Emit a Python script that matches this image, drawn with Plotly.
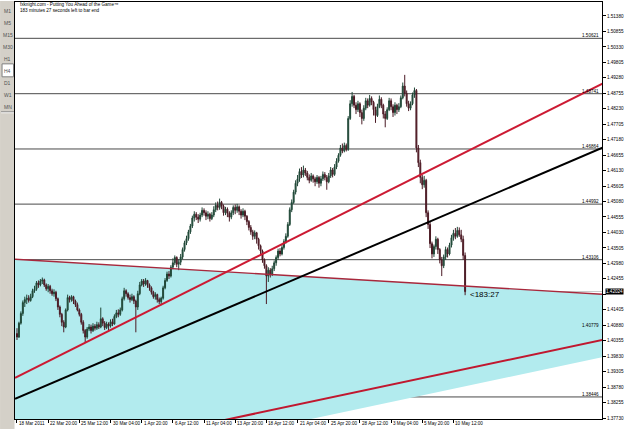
import plotly.graph_objects as go

# ---------------- data (EURUSD H4) ----------------
first_open = 1.4060
close = [1.4048,1.4095,1.4128,1.4165,1.4175,1.4180,1.4172,1.4185,1.4205,1.4210,
         1.4232,1.4225,1.4238,1.4242,1.4225,1.4212,1.4220,1.4205,1.4195,1.4200,
         1.4178,1.4150,1.4125,1.4098,1.4082,1.4140,1.4182,1.4175,1.4185,1.4170,
         1.4158,1.4140,1.4125,1.4098,1.4070,1.4048,1.4075,1.4082,1.4070,1.4085,
         1.4078,1.4090,1.4082,1.4110,1.4095,1.4080,1.4092,1.4085,1.4100,1.4092,
         1.4118,1.4130,1.4125,1.4140,1.4178,1.4205,1.4195,1.4182,1.4175,1.4185,
         1.4170,1.4150,1.4195,1.4225,1.4238,1.4228,1.4240,1.4225,1.4215,1.4200,
         1.4185,1.4192,1.4175,1.4168,1.4180,1.4215,1.4240,1.4262,1.4255,1.4285,
         1.4300,1.4318,1.4295,1.4302,1.4320,1.4345,1.4368,1.4382,1.4405,1.4425,
         1.4452,1.4465,1.4455,1.4448,1.4462,1.4478,1.4470,1.4458,1.4465,1.4450,
         1.4462,1.4480,1.4495,1.4488,1.4505,1.4492,1.4470,1.4482,1.4468,1.4455,
         1.4470,1.4488,1.4478,1.4490,1.4475,1.4462,1.4475,1.4458,1.4440,1.4420,
         1.4405,1.4390,1.4402,1.4380,1.4358,1.4340,1.4310,1.4290,1.4255,1.4275,
         1.4262,1.4280,1.4300,1.4318,1.4340,1.4330,1.4352,1.4372,1.4390,1.4430,
         1.4480,1.4505,1.4540,1.4570,1.4585,1.4610,1.4598,1.4615,1.4605,1.4590,
         1.4580,1.4595,1.4585,1.4575,1.4590,1.4570,1.4585,1.4600,1.4590,1.4575,
         1.4595,1.4615,1.4600,1.4625,1.4645,1.4665,1.4690,1.4680,1.4698,1.4685,
         1.4790,1.4840,1.4865,1.4835,1.4820,1.4840,1.4810,1.4790,1.4825,1.4850,
         1.4835,1.4858,1.4845,1.4820,1.4800,1.4830,1.4855,1.4835,1.4805,1.4790,
         1.4820,1.4850,1.4830,1.4810,1.4835,1.4820,1.4830,1.4860,1.4900,1.4875,
         1.4840,1.4825,1.4840,1.4870,1.4885,1.4690,1.4640,1.4590,1.4565,1.4580,
         1.4470,1.4430,1.4365,1.4330,1.4355,1.4380,1.4345,1.4310,1.4290,1.4320,
         1.4345,1.4330,1.4360,1.4385,1.4400,1.4390,1.4410,1.4395,1.4380,1.4325,
         1.4202]
high = [1.4078,1.4100,1.4135,1.4172,1.4185,1.4192,1.4190,1.4195,1.4212,1.4222,
        1.4238,1.4240,1.4245,1.4250,1.4246,1.4230,1.4228,1.4225,1.4212,1.4210,
        1.4205,1.4182,1.4155,1.4130,1.4105,1.4145,1.4192,1.4188,1.4190,1.4188,
        1.4175,1.4165,1.4145,1.4130,1.4105,1.4075,1.4082,1.4092,1.4090,1.4095,
        1.4092,1.4100,1.4098,1.4148,1.4115,1.4102,1.4100,1.4098,1.4108,1.4110,
        1.4125,1.4140,1.4142,1.4148,1.4185,1.4215,1.4210,1.4200,1.4192,1.4195,
        1.4190,1.4175,1.4205,1.4235,1.4245,1.4245,1.4248,1.4242,1.4230,1.4220,
        1.4205,1.4200,1.4195,1.4182,1.4185,1.4222,1.4248,1.4270,1.4272,1.4292,
        1.4315,1.4325,1.4322,1.4312,1.4330,1.4352,1.4375,1.4392,1.4412,1.4432,
        1.4460,1.4475,1.4472,1.4465,1.4470,1.4488,1.4485,1.4478,1.4475,1.4470,
        1.4472,1.4492,1.4505,1.4508,1.4518,1.4510,1.4498,1.4490,1.4488,1.4475,
        1.4478,1.4495,1.4498,1.4500,1.4495,1.4482,1.4485,1.4480,1.4462,1.4445,
        1.4428,1.4412,1.4410,1.4405,1.4385,1.4362,1.4345,1.4315,1.4295,1.4285,
        1.4282,1.4290,1.4308,1.4325,1.4348,1.4350,1.4360,1.4380,1.4400,1.4438,
        1.4488,1.4515,1.4548,1.4580,1.4598,1.4620,1.4625,1.4630,1.4622,1.4612,
        1.4600,1.4605,1.4600,1.4592,1.4598,1.4595,1.4595,1.4610,1.4608,1.4598,
        1.4605,1.4625,1.4622,1.4635,1.4655,1.4672,1.4700,1.4705,1.4708,1.4705,
        1.4798,1.4852,1.4880,1.4870,1.4845,1.4850,1.4845,1.4820,1.4835,1.4860,
        1.4858,1.4870,1.4865,1.4850,1.4830,1.4840,1.4868,1.4862,1.4840,1.4815,
        1.4828,1.4860,1.4858,1.4838,1.4845,1.4840,1.4842,1.4868,1.4912,1.4938,
        1.4885,1.4850,1.4848,1.4878,1.4895,1.4890,1.4700,1.4650,1.4598,1.4595,
        1.4585,1.4478,1.4440,1.4372,1.4362,1.4390,1.4385,1.4350,1.4320,1.4328,
        1.4355,1.4352,1.4368,1.4395,1.4412,1.4418,1.4422,1.4420,1.4412,1.4392,
        1.4335]
low = [1.4038,1.4045,1.4090,1.4120,1.4150,1.4160,1.4165,1.4168,1.4180,1.4198,
       1.4205,1.4215,1.4220,1.4228,1.4218,1.4205,1.4200,1.4195,1.4188,1.4185,
       1.4170,1.4140,1.4115,1.4085,1.4064,1.4078,1.4135,1.4165,1.4168,1.4160,
       1.4150,1.4135,1.4118,1.4090,1.4060,1.4030,1.4042,1.4068,1.4060,1.4065,
       1.4070,1.4072,1.4075,1.4078,1.4085,1.4072,1.4075,1.4070,1.4080,1.4085,
       1.4090,1.4112,1.4115,1.4120,1.4135,1.4172,1.4185,1.4175,1.4165,1.4170,
       1.4160,1.4064,1.4140,1.4190,1.4220,1.4218,1.4222,1.4215,1.4205,1.4192,
       1.4178,1.4175,1.4165,1.4160,1.4156,1.4175,1.4210,1.4235,1.4245,1.4250,
       1.4278,1.4292,1.4285,1.4275,1.4292,1.4312,1.4338,1.4360,1.4375,1.4398,
       1.4418,1.4440,1.4445,1.4435,1.4440,1.4455,1.4460,1.4445,1.4448,1.4440,
       1.4445,1.4455,1.4472,1.4478,1.4480,1.4482,1.4460,1.4462,1.4455,1.4440,
       1.4448,1.4462,1.4465,1.4470,1.4462,1.4450,1.4455,1.4445,1.4428,1.4410,
       1.4395,1.4378,1.4380,1.4365,1.4345,1.4330,1.4300,1.4280,1.4160,1.4235,
       1.4250,1.4255,1.4272,1.4290,1.4310,1.4322,1.4325,1.4345,1.4365,1.4385,
       1.4425,1.4472,1.4500,1.4532,1.4560,1.4575,1.4588,1.4590,1.4595,1.4580,
       1.4570,1.4575,1.4572,1.4560,1.4568,1.4555,1.4560,1.4578,1.4580,1.4548,
       1.4570,1.4588,1.4590,1.4595,1.4618,1.4640,1.4660,1.4672,1.4675,1.4678,
       1.4680,1.4785,1.4830,1.4825,1.4805,1.4812,1.4795,1.4770,1.4782,1.4818,
       1.4825,1.4830,1.4835,1.4800,1.4775,1.4795,1.4825,1.4825,1.4790,1.4760,
       1.4785,1.4815,1.4818,1.4795,1.4800,1.4805,1.4812,1.4825,1.4855,1.4865,
       1.4830,1.4815,1.4818,1.4835,1.4860,1.4675,1.4625,1.4570,1.4550,1.4555,
       1.4455,1.4415,1.4350,1.4315,1.4320,1.4345,1.4330,1.4298,1.4255,1.4282,
       1.4310,1.4318,1.4325,1.4352,1.4375,1.4380,1.4385,1.4388,1.4370,1.4310,
       1.4190]

date_labels = ["18 Mar 2011", "22 Mar 20:00", "25 Mar 12:00", "30 Mar 04:00", "1 Apr 20:00",
               "6 Apr 12:00", "11 Apr 04:00", "13 Apr 20:00", "18 Apr 12:00", "21 Apr 04:00",
               "25 Apr 20:00", "28 Apr 12:00", "3 May 04:00", "5 May 20:00", "10 May 12:00"]
date_label_bars = [0, 16, 32, 48, 64, 80, 96, 112, 128, 144, 160, 176, 192, 208, 224]

price_ticks = ["1.51380", "1.50855", "1.50330", "1.49805", "1.49280", "1.48755", "1.48230",
               "1.47705", "1.47180", "1.46655", "1.46130", "1.45605", "1.45080", "1.44555",
               "1.44030", "1.43505", "1.42980", "1.42455", "1.41930", "1.41405", "1.40880",
               "1.40355", "1.39830", "1.39305", "1.38780", "1.38255", "1.37730"]

levels = [1.50621, 1.48741, 1.46864, 1.44992, 1.43106, 1.40779, 1.38446]
current_price = 1.42024

# trendline anchor points (bar index, price)
upper_red = ([-1, 301], [1.3909, 1.4910])
black_line = ([-1, 301], [1.3838, 1.4692])
lower_red = ([100, 301], [1.3757, 1.4039])
channel_top = ([-1, 301], [1.4312, 1.4193])
channel_fill_x = [-1, 301, 301, 144, -1]
channel_fill_y = [1.4312, 1.4193, 1.3980, 1.3760, 1.3760]

timeframes = ["M1", "M5", "M15", "M30", "H1", "H4", "D1", "W1", "MN"]

# ---------------- figure ----------------
W, H = 625, 429
L, R, T, B = 15, 21, 1, 10
pw, ph = W - L - R, H - T - B

def px(x):
    return (x - L) / pw

def py(y):
    return (H - B - y) / ph

FONT = "Liberation Sans"
n = len(close)
xs = list(range(n))
opens = [first_open] + close[:-1]

fig = go.Figure()

fig.add_trace(go.Candlestick(
    x=xs, open=opens, high=high, low=low, close=close,
    increasing=dict(line=dict(color="#1f4636", width=1), fillcolor="#2a5e48"),
    decreasing=dict(line=dict(color="#4a1a24", width=1), fillcolor="#6a1e2c"),
    whiskerwidth=0, hoverinfo="skip"))

fig.add_trace(go.Scatter(x=channel_top[0], y=channel_top[1], mode="lines",
                         line=dict(color="#a8283c", width=1.3)))
fig.add_trace(go.Scatter(x=upper_red[0], y=upper_red[1], mode="lines",
                         line=dict(color="#cc1a33", width=2)))
fig.add_trace(go.Scatter(x=black_line[0], y=black_line[1], mode="lines",
                         line=dict(color="#000000", width=2)))
fig.add_trace(go.Scatter(x=lower_red[0], y=lower_red[1], mode="lines",
                         line=dict(color="#c0182f", width=2)))

fill_path = "M " + " L ".join(f"{a},{b}" for a, b in zip(channel_fill_x, channel_fill_y)) + " Z"
shapes = [
    dict(type="path", xref="x", yref="y", path=fill_path, fillcolor="#b2ebee",
         line=dict(width=0), layer="below"),
    dict(type="line", xref="paper", yref="y", x0=0, x1=1, y0=current_price, y1=current_price,
         line=dict(color="#c8c8c8", width=1), layer="below"),
]
for lv in levels:
    shapes.append(dict(type="line", xref="paper", yref="y", x0=0, x1=1, y0=lv, y1=lv,
                       line=dict(color="#4a4a4a", width=1), layer="below"))
shapes += [
    dict(type="rect", xref="paper", yref="paper", x0=px(0), x1=px(14.5), y0=py(429), y1=py(0),
         fillcolor="#d4d0c8", line=dict(width=0), layer="below"),
    dict(type="rect", xref="paper", yref="paper", x0=px(2), x1=px(13.5), y0=py(76), y1=py(63),
         fillcolor="#ffffff", line=dict(color="#808080", width=1)),
    dict(type="line", xref="paper", yref="paper", x0=px(1), x1=px(14), y0=py(112), y1=py(112),
         line=dict(color="#ffffff", width=1)),
    dict(type="line", xref="paper", yref="paper", x0=px(1), x1=px(14), y0=py(111), y1=py(111),
         line=dict(color="#909090", width=1)),
]

annotations = []
ty = [10, 22, 34, 46, 58, 70, 82, 94, 106]
for tf, yy in zip(timeframes, ty):
    annotations.append(dict(text=tf, xref="paper", yref="paper", x=px(7.5), y=py(yy),
                            xanchor="center", yanchor="middle", showarrow=False,
                            font=dict(family=FONT, size=5, color="#505050")))
annotations.append(dict(text="fxknight.com - Putting You Ahead of the Game\u2122",
                        xref="paper", yref="paper", x=px(18), y=py(4), xanchor="left",
                        yanchor="middle", showarrow=False,
                        font=dict(family=FONT, size=4.6, color="#000000")))
annotations.append(dict(text="183 minutes 27 seconds left to bar end",
                        xref="paper", yref="paper", x=px(18), y=py(10), xanchor="left",
                        yanchor="middle", showarrow=False,
                        font=dict(family=FONT, size=4.6, color="#000000")))
for lv in levels:
    annotations.append(dict(text=f"{lv:.5f}", xref="paper", yref="y", x=px(603), y=lv,
                            xanchor="right", yanchor="bottom", showarrow=False, yshift=-2,
                            font=dict(family=FONT, size=4.6, color="#000000")))
annotations.append(dict(text=f"{current_price:.5f}", xref="paper", yref="y", x=px(607), y=current_price,
                        xanchor="left", yanchor="middle", showarrow=False,
                        bgcolor="#000000", borderpad=0,
                        font=dict(family=FONT, size=4.6, color="#ffffff")))
annotations.append(dict(text="<183:27", xref="x", yref="y", x=n + 0.5, y=current_price,
                        xanchor="left", yanchor="middle", showarrow=False, yshift=-3,
                        font=dict(family=FONT, size=8, color="#000000")))
for lab, b in zip(date_labels, date_label_bars):
    annotations.append(dict(text=lab, xref="x", yref="paper", x=b, y=py(424),
                            xanchor="left", yanchor="middle", showarrow=False,
                            font=dict(family=FONT, size=4.6, color="#000000")))

# the current-price box covers the axis label right under it
shown_ticks = [t if abs(float(t) - current_price) > 0.002 else "" for t in price_ticks]

fig.update_layout(
    width=W, height=H,
    margin=dict(l=L, r=R, t=T, b=B),
    paper_bgcolor="#ffffff", plot_bgcolor="#ffffff",
    showlegend=False,
    shapes=shapes, annotations=annotations,
    xaxis=dict(range=[(15 - 17) / 1.955, (604 - 17) / 1.955], rangeslider=dict(visible=False),
               showgrid=False, zeroline=False, showline=True, mirror=True,
               linecolor="#000000", linewidth=1,
               tickmode="array", tickvals=date_label_bars, ticktext=[""] * len(date_label_bars),
               ticks="outside", ticklen=3, tickcolor="#000000"),
    yaxis=dict(side="right", range=[1.37697, 1.51854], showgrid=False, zeroline=False,
               showline=True, mirror=True, linecolor="#000000", linewidth=1,
               tickmode="array", tickvals=[float(t) for t in price_ticks], ticktext=shown_ticks,
               ticks="outside", ticklen=3, tickcolor="#000000",
               tickfont=dict(family=FONT, size=4.6, color="#000000")),
)

fig.write_html("out.html")
